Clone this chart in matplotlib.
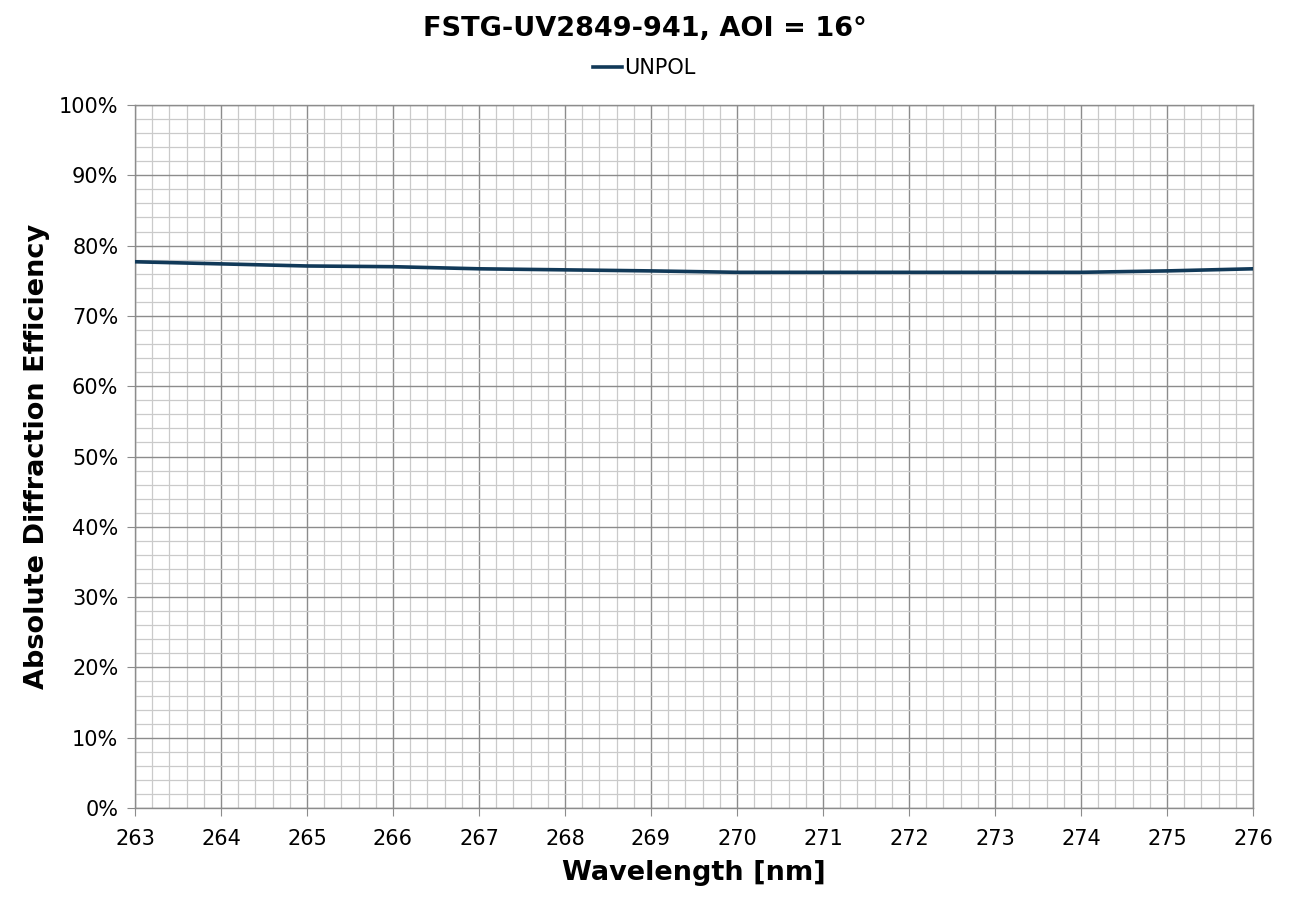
import matplotlib
matplotlib.use("Agg")
import matplotlib.pyplot as plt
from matplotlib.ticker import MultipleLocator, PercentFormatter

# data
wavelength = [263, 264, 265, 266, 267, 268, 269, 270, 271, 272, 273, 274, 275, 276]
unpol = [77.7, 77.4, 77.1, 77.0, 76.7, 76.55, 76.4, 76.2, 76.2, 76.2, 76.2, 76.2, 76.4, 76.7]

plt.rcParams['font.family'] = ['DejaVu Sans']

fig = plt.figure(figsize=(12.89, 9.02), dpi=100)
ax = fig.add_axes([0.1047, 0.1042, 0.8674, 0.7794])

ax.plot(wavelength, unpol, color='#113958', lw=2.6, label='UNPOL', zorder=3)

ax.set_xlim(263, 276)
ax.set_ylim(0, 100)
ax.xaxis.set_major_locator(MultipleLocator(1))
ax.xaxis.set_minor_locator(MultipleLocator(0.2))
ax.yaxis.set_major_locator(MultipleLocator(10))
ax.yaxis.set_minor_locator(MultipleLocator(2))
ax.yaxis.set_major_formatter(PercentFormatter(decimals=0))

ax.grid(which='major', color='#8c8c8c', lw=1.0)
ax.grid(which='minor', color='#cacaca', lw=0.9)
ax.set_axisbelow(True)
for s in ax.spines.values():
    s.set_color('#8c8c8c')
    s.set_linewidth(1.0)

ax.tick_params(which='major', direction='out', length=6, color='#8c8c8c', labelsize=15)
ax.tick_params(axis='x', pad=9)
ax.tick_params(axis='y', pad=6)
ax.tick_params(which='minor', length=0)

ax.set_xlabel('Wavelength [nm]', fontsize=19.5, fontweight='bold', labelpad=8)
ax.set_ylabel('Absolute Diffraction Efficiency', fontsize=19.5, fontweight='bold', labelpad=6)

fig.text(0.5, 1 - 29 / 902, 'FSTG-UV2849-941, AOI = 16°', ha='center', va='center',
         fontsize=19.5, fontweight='bold')
fig.legend(loc='center', bbox_to_anchor=(0.5, 1 - 68 / 902), frameon=False, fontsize=15,
           handlelength=1.4, handletextpad=0.1)

fig.savefig('out.png', dpi=100)
